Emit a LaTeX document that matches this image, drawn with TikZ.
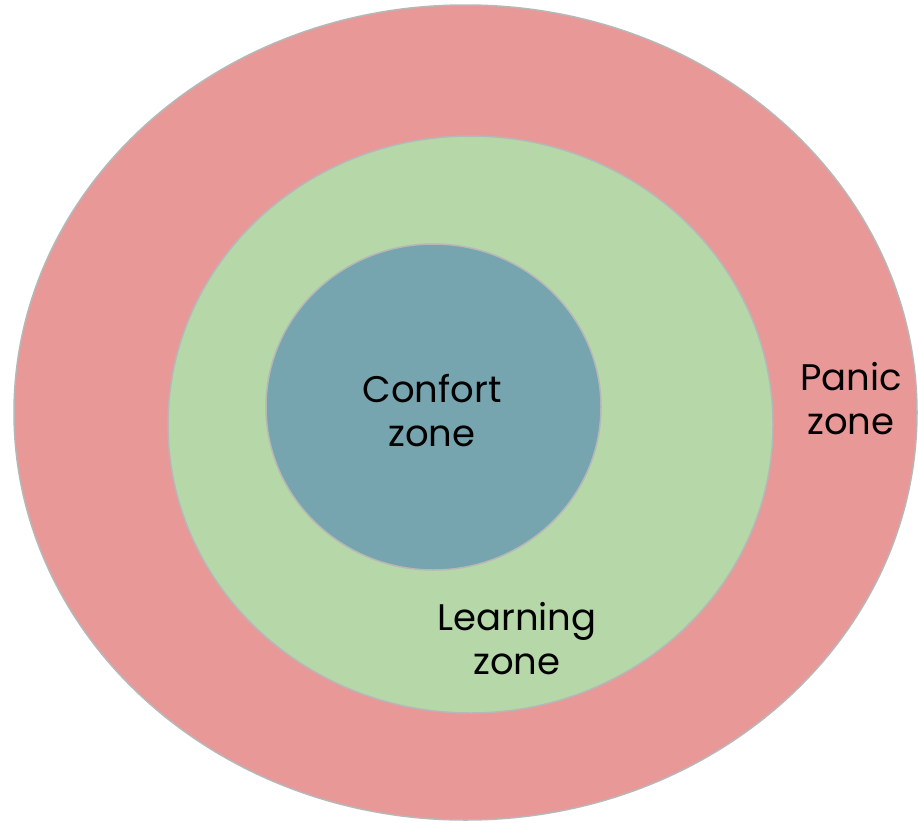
\documentclass[tikz,border=0pt]{standalone}
\usepackage{fontspec}
\setmainfont{Poppins}
\definecolor{panic}{HTML}{E99898}
\definecolor{learn}{HTML}{B6D7A8}
\definecolor{comfort}{HTML}{76A5AF}
\definecolor{rim}{HTML}{B7B7B7}
\begin{document}
\begin{tikzpicture}[x=1pt,y=-1pt,
  zone/.style={draw=rim,line width=1.5pt},
  lbl/.style={align=center,font=\fontsize{37}{44}\selectfont,text=black,inner sep=0pt}]
\useasboundingbox (0,0) rectangle (918,822);
\fill[white] (0,0) rectangle (918,822);
\draw[zone,fill=panic] (465.5,412.5) ellipse [x radius=451.5, y radius=407.5];
\draw[zone,fill=learn] (470.5,424.5) ellipse [x radius=302.5, y radius=288.5];
\draw[zone,fill=comfort] (433.5,407) ellipse [x radius=167.5, y radius=163];
\node[lbl] (c) at (432,411) {Confort\\zone};
\node[lbl] (l) at (517,639) {Learning\\zone};
\node[lbl] (p) at (851,399) {Panic\\zone};
\end{tikzpicture}
\end{document}
